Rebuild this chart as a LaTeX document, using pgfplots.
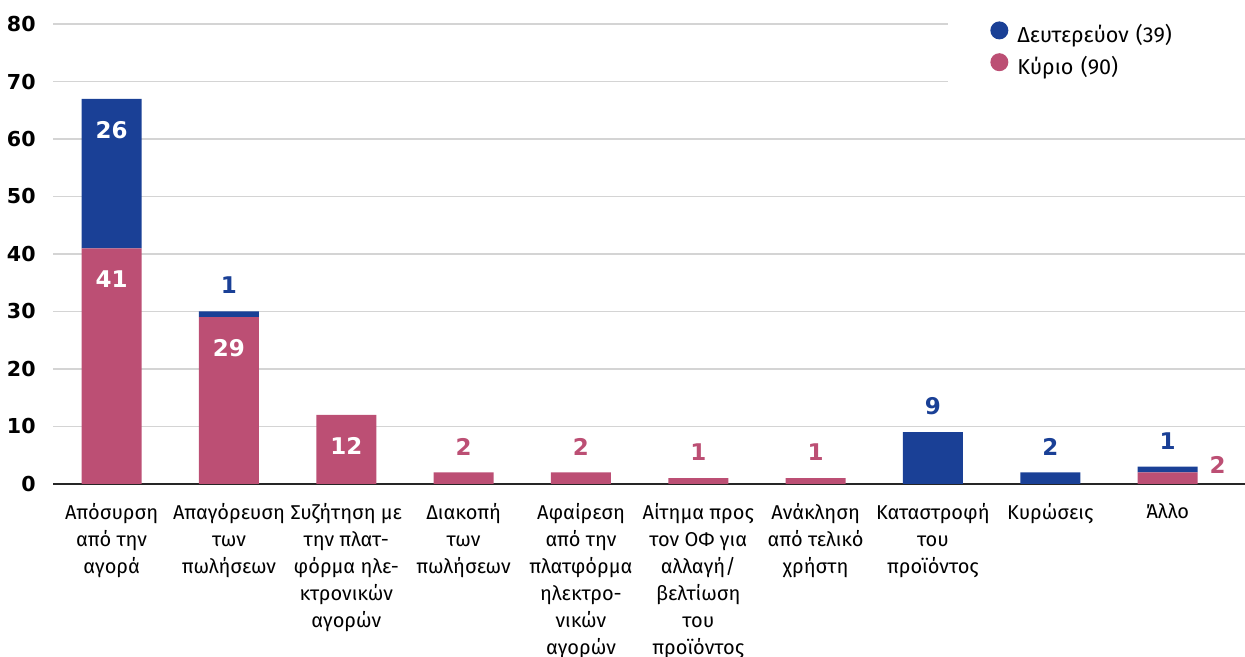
\documentclass[border=0pt]{standalone}
\usepackage{pgfplots}
\pgfplotsset{compat=1.18}
\usepackage{fontspec}
\setmainfont{Fira Sans}
\newfontfamily\dejavu{DejaVu Sans}
\definecolor{cblue}{HTML}{1A4096}
\definecolor{cpink}{HTML}{BC4F74}
\definecolor{cgrid}{HTML}{D4D4D4}
\begin{document}
\begin{tikzpicture}
\pgfplotsset{
  common/.style={
    scale only axis, width=596pt, height=230pt,
    xmin=-0.5, xmax=9.66, ymin=0, ymax=80,
    at={(26.5pt,86.5pt)}, anchor=south west,
  },
  lbl/.style={draw=none, mark=none,
    point meta=explicit symbolic, nodes near coords,
    nodes near coords style={anchor=center, font=\dejavu\bfseries\fontsize{11.5}{13}\selectfont}},
}
\begin{axis}[common,
  ybar stacked, bar width=30pt,
  axis line style={draw=none},
  major tick length=0pt,
  ytick={0,10,...,80},
  ymajorgrids, grid style={cgrid, line width=0.75pt},
  extra y ticks={0}, extra y tick labels={},
  extra y tick style={grid style={black!85, line width=0.75pt}},
  xtick={0,...,9},
  xticklabels={
    Απόσυρση\\από την\\αγορά,
    Απαγόρευση\\των\\πωλήσεων,
    Συζήτηση με\\την πλατ-\\φόρμα ηλε-\\κτρονικών\\αγορών,
    Διακοπή\\των\\πωλήσεων,
    Αφαίρεση\\από την\\πλατφόρμα\\ηλεκτρο-\\νικών\\αγορών,
    Αίτημα προς\\τον ΟΦ για\\αλλαγή/\\βελτίωση\\του\\προϊόντος,
    Ανάκληση\\από τελικό\\χρήστη,
    Καταστροφή\\του\\προϊόντος,
    Κυρώσεις,
    Άλλο},
  xticklabel style={font=\fontsize{10}{13.5}\selectfont, align=center, anchor=north, yshift=-6pt},
  yticklabel style={font=\dejavu\bfseries\fontsize{10.3}{12}\selectfont, inner xsep=0pt, xshift=-8.5pt},
  /pgf/number format/assume math mode=true,
  legend image code/.code={\fill[#1, draw=none] (0pt,3.4pt) circle (4.5pt);},
  reverse legend,
  legend cell align=left,
  legend style={at={(0.7508,1.05)}, anchor=north west, fill=white, draw=none,
    inner xsep=21pt, inner ysep=10pt, row sep=3pt,
    nodes={inner xsep=4.5pt, inner ysep=0pt, text height=7.5pt, text depth=2.5pt, text width=92pt, align=left},
    font=\fontsize{10.8}{12}\selectfont},
]
\addplot[fill=cpink, draw=none] coordinates {(0,41) (1,29) (2,12) (3,2) (4,2) (5,1) (6,1) (7,0) (8,0) (9,2)};
\addlegendentry{Κύριο (90)}
\addplot[fill=cblue, draw=none] coordinates {(0,26) (1,1) (2,0) (3,0) (4,0) (5,0) (6,0) (7,9) (8,2) (9,1)};
\addlegendentry{Δευτερεύον (39)}
\end{axis}
\begin{axis}[common, hide axis, clip=false]
\addplot[lbl, nodes near coords style={text=white, yshift=-15.5pt}] coordinates {(0,67)[26] (0,41)[41] (1,29)[29] (2,12)[12]};
\addplot[lbl, nodes near coords style={text=cblue, yshift=13pt}] coordinates {(1,30)[1] (7,9)[9] (8,2)[2] (9,3)[1]};
\addplot[lbl, nodes near coords style={text=cpink, yshift=13pt}] coordinates {(3,2)[2] (4,2)[2] (5,1)[1] (6,1)[1]};
\addplot[lbl, nodes near coords style={text=cpink, xshift=25pt, yshift=3.75pt}] coordinates {(9,2)[2]};
\end{axis}
\pgfresetboundingbox
\path[use as bounding box] (0,0) rectangle (622.5pt,328.5pt);
\end{tikzpicture}
\end{document}
